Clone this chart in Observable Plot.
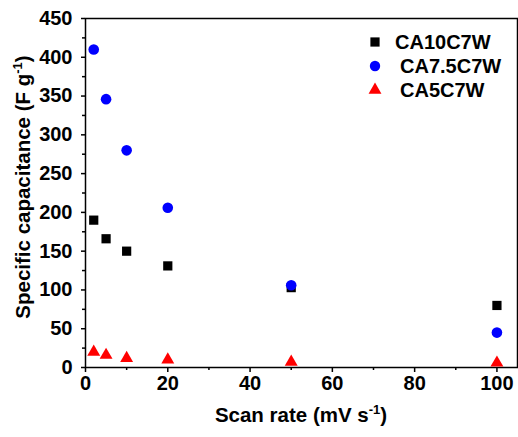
<!DOCTYPE html>
<html>
<head>
<meta charset="utf-8">
<script src="https://cdn.jsdelivr.net/npm/d3@7"></script>
<script src="https://cdn.jsdelivr.net/npm/@observablehq/plot@0.6"></script>
<style>
  html, body { margin: 0; padding: 0; background: #fff; }
  #chart { position: relative; width: 518px; height: 437px; }
  #legend { position: absolute; left: 366px; top: 31px; font: bold 20px "Liberation Sans", Arial, sans-serif; }
  #legend .row { position: relative; height: 24px; line-height: 22px; white-space: nowrap; }
  #legend svg { position: absolute; left: 0; top: 0; }
  #legend span { position: absolute; top: 0; }
</style>
</head>
<body>
<div id="chart"><div id="legend"></div></div>
<script>
const scanRate = [2, 5, 10, 20, 50, 100];
const ca10 = [190, 166, 150, 131, 103, 80];
const ca75 = [410, 346, 280, 206, 106, 45];
const ca5 = [20, 16, 12, 10, 7, 6];
const seriesNames = ["CA10C7W", "CA7.5C7W", "CA5C7W"];
const seriesColors = ["#000000", "#0000ff", "#ff0000"];
const seriesSymbols = ["square", "circle", "triangle"];
const xTicks = [0, 20, 40, 60, 80, 100];
const xMinor = [10, 30, 50, 70, 90];
const yTicks = [0, 50, 100, 150, 200, 250, 300, 350, 400, 450];
const yMinor = [25, 75, 125, 175, 225, 275, 325, 375, 425];

const seriesValues = [ca10, ca75, ca5];
const data = [];
seriesNames.forEach((name, i) => {
  scanRate.forEach((x, j) => data.push({series: name, x, y: seriesValues[i][j]}));
});

const font = '"Liberation Sans", Arial, sans-serif';
const plot = Plot.plot({
  width: 518,
  height: 437,
  marginLeft: 85,
  marginTop: 18,
  marginRight: 1,
  marginBottom: 70,
  style: {fontFamily: font, fontWeight: "bold", fontSize: "20px", color: "#000", background: "#fff"},
  x: {domain: [0, 105]},
  y: {domain: [0, 450]},
  marks: [
    Plot.axisX({ticks: xTicks, tickSize: 5, tickPadding: 3, label: null, tickFormat: d => d, strokeWidth: 1.5}),
    Plot.axisX({ticks: xMinor, tickSize: 3, label: null, text: null, strokeWidth: 1.5}),
    Plot.axisY({ticks: yTicks, tickSize: 4, tickPadding: 9, label: null, tickFormat: d => d, strokeWidth: 1.5}),
    Plot.axisY({ticks: yMinor, tickSize: 3, label: null, text: null, strokeWidth: 1.5}),
    Plot.frame({stroke: "#000", strokeWidth: 1.5}),
    ...seriesNames.map((name, i) => Plot.dot(data.filter(d => d.series === name), {
      x: "x", y: "y",
      symbol: () => seriesSymbols[i],
      fill: seriesColors[i], stroke: "none",
      r: seriesSymbols[i] === "square" ? 5.2 : seriesSymbols[i] === "triangle" ? 4.8 : 5.3
    }))
  ]
});

// axis labels with superscripts
const svg = d3.select(plot);
const yl = svg.append("text")
  .attr("transform", "translate(30,187) rotate(-90)")
  .attr("text-anchor", "middle")
  .attr("font-family", font).attr("font-weight", "bold").attr("font-size", 20.5).attr("fill", "#000");
yl.append("tspan").text("Specific capacitance (F g");
yl.append("tspan").attr("dy", -8).attr("font-size", 13).text("-1");
yl.append("tspan").attr("dy", 8).text(")");

const xl = svg.append("text")
  .attr("x", 301).attr("y", 422)
  .attr("text-anchor", "middle")
  .attr("font-family", font).attr("font-weight", "bold").attr("font-size", 20.5).attr("fill", "#000");
xl.append("tspan").text("Scan rate (mV s");
xl.append("tspan").attr("dy", -8).attr("font-size", 13).text("-1");
xl.append("tspan").attr("dy", 8).text(")");

document.getElementById("chart").prepend(plot);

// legend
const legend = document.getElementById("legend");
const textLeft = [29, 34, 34];
seriesNames.forEach((name, i) => {
  const row = document.createElement("div");
  row.className = "row";
  const s = d3.create("svg").attr("width", 20).attr("height", 22);
  const sym = {square: d3.symbolSquare, circle: d3.symbolCircle, triangle: d3.symbolTriangle}[seriesSymbols[i]];
  const size = {square: 85, circle: 85, triangle: 72}[seriesSymbols[i]];
  s.append("path").attr("transform", "translate(9,11)").attr("d", d3.symbol(sym, size)()).attr("fill", seriesColors[i]);
  row.appendChild(s.node());
  const sp = document.createElement("span");
  sp.style.left = textLeft[i] + "px";
  sp.textContent = name;
  row.appendChild(sp);
  legend.appendChild(row);
});
</script>
</body>
</html>
